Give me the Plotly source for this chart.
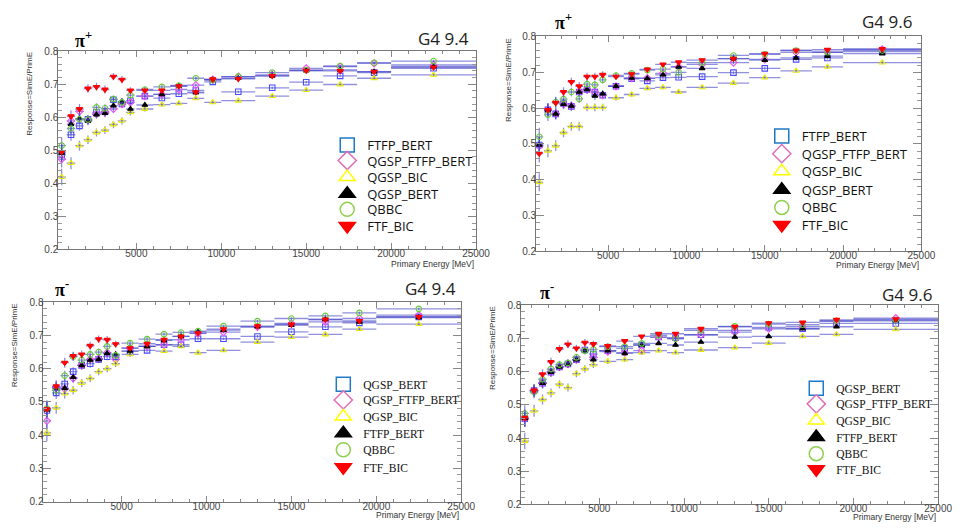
import plotly.graph_objects as go

# The page body has an 8px default margin, so the figure is sized to the
# visible area and screen pixel positions are shifted by that margin.
SCREEN_W, SCREEN_H = 962, 531
OFF = 8
FW, FH = SCREEN_W - OFF, SCREEN_H - OFF

# ---------------- data ----------------
energy = [600, 1150, 1650, 2150, 2650, 3150, 3650, 4150, 4650, 5500,
          6500, 7500, 8500, 9500, 11000, 13000, 15000, 17000, 19000, 22500]
energy_err = [250, 250, 250, 250, 250, 250, 250, 250, 250, 500,
              500, 500, 500, 500, 1000, 1000, 1000, 1000, 1000, 2500]
resp_err = [0.025, 0.018, 0.015, 0.013, 0.012, 0.012, 0.011, 0.011, 0.010, 0.008,
            0.006, 0.005, 0.005, 0.005, 0.004, 0.004, 0.004, 0.004, 0.004, 0.004]

# pi+ , G4 9.4
pip94_ftfp_bert = [0.487, 0.547, 0.574, 0.594, 0.615, 0.617, 0.653, 0.640, 0.650, 0.664,
                   0.658, 0.671, 0.681, 0.707, 0.677, 0.689, 0.706, 0.725, 0.735, 0.748]
pip94_qgsp_ftfp_bert = [0.473, 0.589, 0.618, 0.591, 0.610, 0.615, 0.625, 0.640, 0.645, 0.664,
                        0.669, 0.684, 0.697, 0.714, 0.723, 0.728, 0.748, 0.753, 0.763, 0.758]
pip94_qgsp_bic = [0.419, 0.461, 0.514, 0.532, 0.554, 0.561, 0.578, 0.589, 0.615, 0.625,
                  0.638, 0.642, 0.657, 0.645, 0.650, 0.664, 0.682, 0.699, 0.718, 0.728]
pip94_qgsp_bert = [0.492, 0.579, 0.596, 0.589, 0.608, 0.612, 0.635, 0.647, 0.625, 0.637,
                   0.669, 0.694, 0.674, 0.714, 0.718, 0.725, 0.741, 0.743, 0.738, 0.753]
pip94_qbbc = [0.514, 0.566, 0.594, 0.593, 0.630, 0.627, 0.655, 0.645, 0.667, 0.684,
              0.692, 0.696, 0.718, 0.712, 0.723, 0.735, 0.743, 0.755, 0.765, 0.770]
pip94_ftf_bic = [0.495, 0.603, 0.625, 0.687, 0.692, 0.684, 0.723, 0.714, 0.681, 0.681,
                 0.681, 0.694, 0.676, 0.715, 0.716, 0.725, 0.741, 0.740, 0.738, 0.751]

# pi+ , G4 9.6
pip96_ftfp_bert = [0.497, 0.595, 0.584, 0.613, 0.605, 0.645, 0.652, 0.645, 0.636, 0.661,
                   0.682, 0.676, 0.685, 0.686, 0.688, 0.699, 0.711, 0.736, 0.740, 0.758]
pip96_qgsp_ftfp_bert = [0.494, 0.595, 0.584, 0.611, 0.606, 0.645, 0.652, 0.645, 0.636, 0.661,
                        0.684, 0.684, 0.697, 0.715, 0.722, 0.727, 0.736, 0.756, 0.756, 0.764]
pip96_qgsp_bic = [0.393, 0.481, 0.495, 0.532, 0.549, 0.549, 0.602, 0.602, 0.602, 0.629,
                  0.638, 0.655, 0.658, 0.645, 0.658, 0.670, 0.685, 0.704, 0.715, 0.727]
pip96_qgsp_bert = [0.497, 0.595, 0.584, 0.611, 0.606, 0.645, 0.652, 0.634, 0.640, 0.661,
                   0.684, 0.683, 0.693, 0.715, 0.711, 0.738, 0.734, 0.740, 0.745, 0.752]
pip96_qbbc = [0.520, 0.582, 0.617, 0.625, 0.645, 0.626, 0.667, 0.665, 0.679, 0.691,
              0.697, 0.706, 0.709, 0.700, 0.727, 0.747, 0.750, 0.761, 0.756, 0.761]
pip96_ftf_bic = [0.473, 0.595, 0.615, 0.645, 0.673, 0.661, 0.688, 0.688, 0.693, 0.688,
                 0.695, 0.708, 0.722, 0.728, 0.734, 0.738, 0.752, 0.761, 0.763, 0.765]

# pi- , G4 9.4
pim94_qgsp_bert = [0.474, 0.527, 0.554, 0.591, 0.610, 0.615, 0.628, 0.636, 0.635, 0.653,
                   0.655, 0.672, 0.672, 0.690, 0.690, 0.697, 0.711, 0.726, 0.738, 0.756]
pim94_qgsp_ftfp_bert = [0.443, 0.544, 0.539, 0.571, 0.610, 0.628, 0.630, 0.648, 0.628, 0.662,
                        0.667, 0.672, 0.687, 0.706, 0.710, 0.726, 0.736, 0.741, 0.751, 0.761]
pim94_qgsp_bic = [0.407, 0.482, 0.525, 0.535, 0.557, 0.571, 0.591, 0.600, 0.615, 0.643,
                  0.667, 0.653, 0.667, 0.648, 0.655, 0.680, 0.695, 0.703, 0.719, 0.734]
pim94_ftfp_bert = [0.476, 0.541, 0.541, 0.574, 0.610, 0.626, 0.628, 0.646, 0.643, 0.653,
                   0.667, 0.685, 0.697, 0.711, 0.716, 0.726, 0.731, 0.748, 0.741, 0.754]
pim94_qbbc = [0.480, 0.535, 0.579, 0.636, 0.626, 0.643, 0.650, 0.667, 0.640, 0.677,
              0.689, 0.704, 0.709, 0.713, 0.728, 0.743, 0.751, 0.759, 0.768, 0.780]
pim94_ftf_bic = [0.478, 0.547, 0.618, 0.638, 0.643, 0.669, 0.689, 0.687, 0.674, 0.662,
                 0.675, 0.687, 0.697, 0.707, 0.719, 0.728, 0.733, 0.748, 0.744, 0.756]

# pi- , G4 9.6
pim96_qgsp_bert = [0.458, 0.543, 0.565, 0.598, 0.614, 0.623, 0.636, 0.665, 0.653, 0.663,
                   0.670, 0.680, 0.704, 0.702, 0.711, 0.724, 0.733, 0.729, 0.745, 0.745]
pim96_qgsp_ftfp_bert = [0.458, 0.543, 0.565, 0.598, 0.614, 0.623, 0.636, 0.665, 0.643, 0.660,
                        0.657, 0.663, 0.704, 0.699, 0.711, 0.719, 0.729, 0.735, 0.751, 0.761]
pim96_qgsp_bic = [0.391, 0.482, 0.516, 0.536, 0.562, 0.552, 0.594, 0.608, 0.621, 0.631,
                  0.636, 0.657, 0.663, 0.657, 0.665, 0.672, 0.686, 0.706, 0.712, 0.727]
pim96_ftfp_bert = [0.459, 0.543, 0.565, 0.598, 0.614, 0.623, 0.636, 0.663, 0.636, 0.663,
                   0.655, 0.680, 0.685, 0.680, 0.689, 0.704, 0.706, 0.729, 0.735, 0.753]
pim96_qbbc = [0.474, 0.538, 0.577, 0.608, 0.621, 0.626, 0.643, 0.663, 0.667, 0.675,
              0.675, 0.685, 0.709, 0.699, 0.724, 0.736, 0.743, 0.741, 0.753, 0.756]
pim96_ftf_bic = [0.461, 0.543, 0.592, 0.629, 0.668, 0.682, 0.670, 0.687, 0.683, 0.677,
                 0.692, 0.706, 0.714, 0.714, 0.729, 0.735, 0.746, 0.748, 0.756, 0.758]

top_labels = ["FTFP_BERT", "QGSP_FTFP_BERT", "QGSP_BIC", "QGSP_BERT", "QBBC", "FTF_BIC"]
bottom_labels = ["QGSP_BERT", "QGSP_FTFP_BERT", "QGSP_BIC", "FTFP_BERT", "QBBC", "FTF_BIC"]

x_ticks = [5000, 10000, 15000, 20000, 25000]
x_tick_text = ["5000", "10000", "15000", "20000", "25000"]
y_ticks = [0.2, 0.3, 0.4, 0.5, 0.6, 0.7, 0.8]

# ---------------- styles ----------------
data_colors = ["#4b4bff", "#f050f0", "#e8e800", "#000000", "#66cc33", "#ff0000"]
legend_colors = ["#1e7ac8", "#e070b8", "#ffff00", "#000000", "#8fd04f", "#ff0000"]
symbols = ["square-open", "diamond-open", "triangle-up-open", "triangle-up",
           "circle-open", "triangle-down"]
data_sizes = [5.5, 5.5, 5.5, 5, 5.5, 5.5]
err_color = "rgba(70,70,200,0.6)"


def px_x(p):
    return (p - OFF) / FW


def px_y(p):
    return 1 - (p - OFF) / FH


panels = [
    dict(series=[pip94_ftfp_bert, pip94_qgsp_ftfp_bert, pip94_qgsp_bic, pip94_qgsp_bert,
                 pip94_qbbc, pip94_ftf_bic],
         labels=top_labels, box=(59, 483, 46, 249), particle="π<sup>+</sup>",
         version="G4 9.4", ptxt=(74, 34), vtxt=(478, 33),
         legx=370, legy=[142, 158, 175, 192, 208, 225],
         legfont="Open Sans", legsize=13, xt=(483, 264), yt=(29, 45)),
    dict(series=[pip96_ftfp_bert, pip96_qgsp_ftfp_bert, pip96_qgsp_bic, pip96_qgsp_bert,
                 pip96_qbbc, pip96_ftf_bic],
         labels=top_labels, box=(544, 935, 31, 251), particle="π<sup>+</sup>",
         version="G4 9.6", ptxt=(561, 16), vtxt=(927, 16),
         legx=811, legy=[133, 151, 169, 188, 206, 224],
         legfont="Open Sans", legsize=13, xt=(935, 265), yt=(516, 31)),
    dict(series=[pim94_qgsp_bert, pim94_qgsp_ftfp_bert, pim94_qgsp_bic, pim94_ftfp_bert,
                 pim94_qbbc, pim94_ftf_bic],
         labels=bottom_labels, box=(44, 468, 303, 507), particle="π<sup>-</sup>",
         version="G4 9.4", ptxt=(54, 289), vtxt=(465, 289),
         legx=366, legy=[387, 403, 420, 437, 454, 472],
         legfont="Liberation Serif", legsize=11.5, xt=(468, 521), yt=(14, 302)),
    dict(series=[pim96_qgsp_bert, pim96_qgsp_ftfp_bert, pim96_qgsp_bic, pim96_ftfp_bert,
                 pim96_qbbc, pim96_ftf_bic],
         labels=bottom_labels, box=(529, 952, 306, 510), particle="π<sup>-</sup>",
         version="G4 9.6", ptxt=(546, 292), vtxt=(948, 295),
         legx=846, legy=[391, 407, 424, 441, 458, 474],
         legfont="Liberation Serif", legsize=11.5, xt=(952, 523), yt=(499, 305)),
]

fig = go.Figure()
annotations = []
layout_extra = {}
legend_counter = 0

for i, p in enumerate(panels):
    n = i + 1
    xa = "x" if n == 1 else f"x{n}"
    ya = "y" if n == 1 else f"y{n}"
    x0, x1, y0, y1 = p["box"]

    for k, vals in enumerate(p["series"]):
        fig.add_trace(go.Scatter(
            x=energy, y=vals, mode="markers", xaxis=xa, yaxis=ya, showlegend=False,
            marker=dict(symbol=symbols[k], size=data_sizes[k], color=data_colors[k],
                        line=dict(width=1.1, color=data_colors[k])),
            error_x=dict(type="data", array=energy_err, color=err_color,
                         thickness=1.3, width=0),
            error_y=dict(type="data", array=resp_err, color=err_color,
                         thickness=1.3, width=0),
            hoverinfo="skip"))

    # one legend box per entry so the row spacing can follow the reference
    for k, lab in enumerate(p["labels"]):
        legend_counter += 1
        lg = "legend" if legend_counter == 1 else f"legend{legend_counter}"
        fig.add_trace(go.Scatter(
            x=[None], y=[None], mode="markers", xaxis=xa, yaxis=ya, name=lab,
            legend=lg, showlegend=True,
            marker=dict(symbol=symbols[k], size=14, color=legend_colors[k],
                        line=dict(width=1.5, color=legend_colors[k]))))
        layout_extra[lg] = dict(
            x=px_x(p["legx"] - 38), y=px_y(p["legy"][k]), xanchor="left", yanchor="middle",
            bgcolor="rgba(0,0,0,0)", borderwidth=0, itemsizing="trace",
            font=dict(family=p["legfont"], size=p["legsize"], color="#111"))

    axkw = dict(showline=True, linecolor="#777", linewidth=1, mirror="ticks",
                ticks="inside", tickcolor="#888", showgrid=False, zeroline=False,
                tickfont=dict(family="Liberation Sans", size=10, color="#444"))
    layout_extra["xaxis" if n == 1 else f"xaxis{n}"] = dict(
        domain=[px_x(x0), px_x(x1)], range=[400, 25000], anchor=ya,
        tickvals=x_ticks, ticktext=x_tick_text, ticklen=6, ticklabelstandoff=-5,
        minor=dict(dtick=1000, tick0=0, ticklen=3, tickcolor="#888", ticks="inside"),
        **axkw)
    layout_extra["yaxis" if n == 1 else f"yaxis{n}"] = dict(
        domain=[px_y(y1), px_y(y0)], range=[0.2, 0.8], anchor=xa,
        tickvals=y_ticks, tickformat=".1f", ticklen=8, ticklabelstandoff=-3,
        minor=dict(dtick=0.02, tick0=0, ticklen=4, tickcolor="#999", ticks="inside"),
        **axkw)

    annotations.append(dict(text="<b>" + p["particle"] + "</b>", xref="paper", yref="paper",
                            x=px_x(p["ptxt"][0]), y=px_y(p["ptxt"][1]), xanchor="left",
                            yanchor="middle", showarrow=False,
                            font=dict(family="Liberation Serif", size=18, color="#000")))
    annotations.append(dict(text=p["version"], xref="paper", yref="paper",
                            x=px_x(p["vtxt"][0]), y=px_y(p["vtxt"][1]), xanchor="right",
                            yanchor="middle", showarrow=False,
                            font=dict(family="Open Sans", size=17, color="#222")))
    annotations.append(dict(text="Primary Energy [MeV]", xref="paper", yref="paper",
                            x=px_x(p["xt"][0]), y=px_y(p["xt"][1]), xanchor="right",
                            yanchor="middle", showarrow=False,
                            font=dict(family="Liberation Sans", size=8.5, color="#333")))
    annotations.append(dict(text="Response=SimE/PrimE", xref="paper", yref="paper",
                            x=px_x(p["yt"][0]), y=px_y(p["yt"][1]), xanchor="center",
                            yanchor="top", textangle=-90, showarrow=False,
                            font=dict(family="Liberation Sans", size=8, color="#333")))

fig.update_layout(
    width=FW, height=FH, margin=dict(l=0, r=0, t=0, b=0),
    paper_bgcolor="white", plot_bgcolor="white",
    annotations=annotations, **layout_extra)

fig.write_html("out.html")
